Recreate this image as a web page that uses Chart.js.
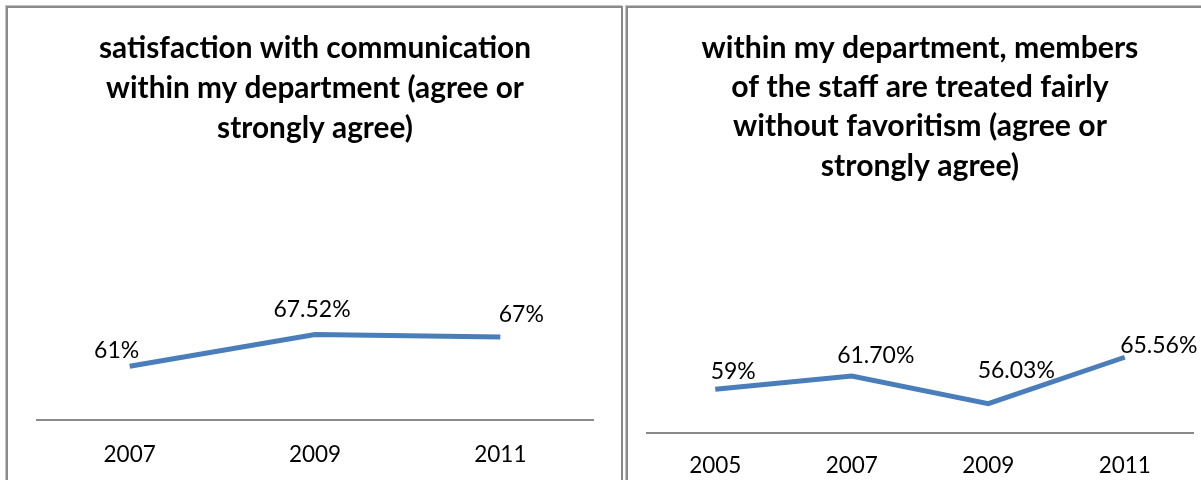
<!DOCTYPE html>
<html>
<head>
<meta charset="utf-8">
<script src="https://cdn.jsdelivr.net/npm/chart.js@4/dist/chart.umd.min.js"></script>
<style>
  html, body { margin: 0; padding: 0; background: #fff; width: 1201px; height: 480px; overflow: hidden; }
  .panel { position: absolute; top: 6px; height: 520px; box-sizing: border-box; border: 2px solid #8a8a8a; box-shadow: -1px -1px 0 #c4c4c4; }
  #panelA { left: 6px; width: 617px; }
  #panelB { left: 626px; width: 620px; }
  canvas { position: absolute; top: 0; }
  #commChart { left: 0; }
  #fairChart { left: 628px; }
</style>
</head>
<body>
<div class="panel" id="panelA"></div>
<div class="panel" id="panelB"></div>
<canvas id="commChart" width="628" height="504"></canvas>
<canvas id="fairChart" width="582" height="501"></canvas>
<script>
// satisfaction with communication
var commYears = ['2007', '2009', '2011'];
var commValues = [61, 67.52, 67];
var commDecimals = [0, 2, 0];
var commTitle = ['satisfaction with communication', 'within my department (agree or', 'strongly agree)'];

// treated fairly without favoritism
var fairYears = ['2005', '2007', '2009', '2011'];
var fairValues = [59, 61.70, 56.03, 65.56];
var fairDecimals = [0, 2, 2, 2];
var fairTitle = ['within my department, members', 'of the staff are treated fairly', 'without favoritism (agree or', 'strongly agree)'];

var FONT = 'Lato, "Liberation Sans", sans-serif';
var BLUE = '#4a7ebb';

// draws the value labels next to each point, nudged by per-point offsets
var pointLabels = {
    id: 'pointLabels',
    afterDatasetsDraw(chart, args, opts) {
        var ctx = chart.ctx;
        var ds = chart.data.datasets[0];
        var meta = chart.getDatasetMeta(0);
        ctx.save();
        ctx.font = opts.size + 'px ' + FONT;
        ctx.fillStyle = '#000';
        ctx.textAlign = 'center';
        ctx.textBaseline = 'middle';
        meta.data.forEach((pt, i) => {
            var txt = ds.data[i].toFixed(opts.decimals[i]) + '%';
            var off = opts.offsets[i];
            ctx.fillText(txt, pt.x + off[0], pt.y + off[1]);
        });
        ctx.restore();
    }
};

function makeChart(id, years, values, decimals, title, cfg) {
    return new Chart(id, {
        type: 'line',
        data: {
            labels: years,
            datasets: [{
                data: values,
                borderColor: BLUE,
                borderWidth: 5,
                pointRadius: 0,
                tension: 0,
                clip: false
            }]
        },
        options: {
            responsive: false,
            animation: false,
            layout: { padding: cfg.padding },
            plugins: {
                legend: { display: false },
                tooltip: { enabled: false },
                title: {
                    display: true,
                    text: title,
                    color: '#000',
                    font: { family: FONT, size: cfg.titleSize, weight: 'bold', lineHeight: cfg.titleLine },
                    padding: cfg.titlePadding
                },
                pointLabels: { size: 23, decimals: decimals, offsets: cfg.offsets }
            },
            scales: {
                x: {
                    offset: true,
                    grid: { display: false, drawTicks: false },
                    border: { display: true, color: '#8a8a8a', width: 2 },
                    ticks: { color: '#000', padding: cfg.tickPad, font: { family: FONT, size: 22.5 } }
                },
                y: {
                    display: false,
                    min: 50,
                    max: 100
                }
            }
        },
        plugins: [pointLabels]
    });
}

makeChart('commChart', commYears, commValues, commDecimals, commTitle, {
    padding: { left: 37, right: 35, top: 0, bottom: 15 },
    titleSize: 29.8,
    titleLine: '40px',
    titlePadding: { top: 28, bottom: 28 },
    tickPad: 21,
    offsets: [[-13, -16], [-3, -25], [21, -22]]
});

makeChart('fairChart', fairYears, fairValues, fairDecimals, fairTitle, {
    padding: { left: 19, right: 17, top: 0, bottom: 3 },
    titleSize: 30.2,
    titleLine: '39.3px',
    titlePadding: { top: 28.4, bottom: 4 },
    tickPad: 19,
    offsets: [[18, -18], [24, -20], [28, -33], [34, -12]]
});
</script>
</body>
</html>
